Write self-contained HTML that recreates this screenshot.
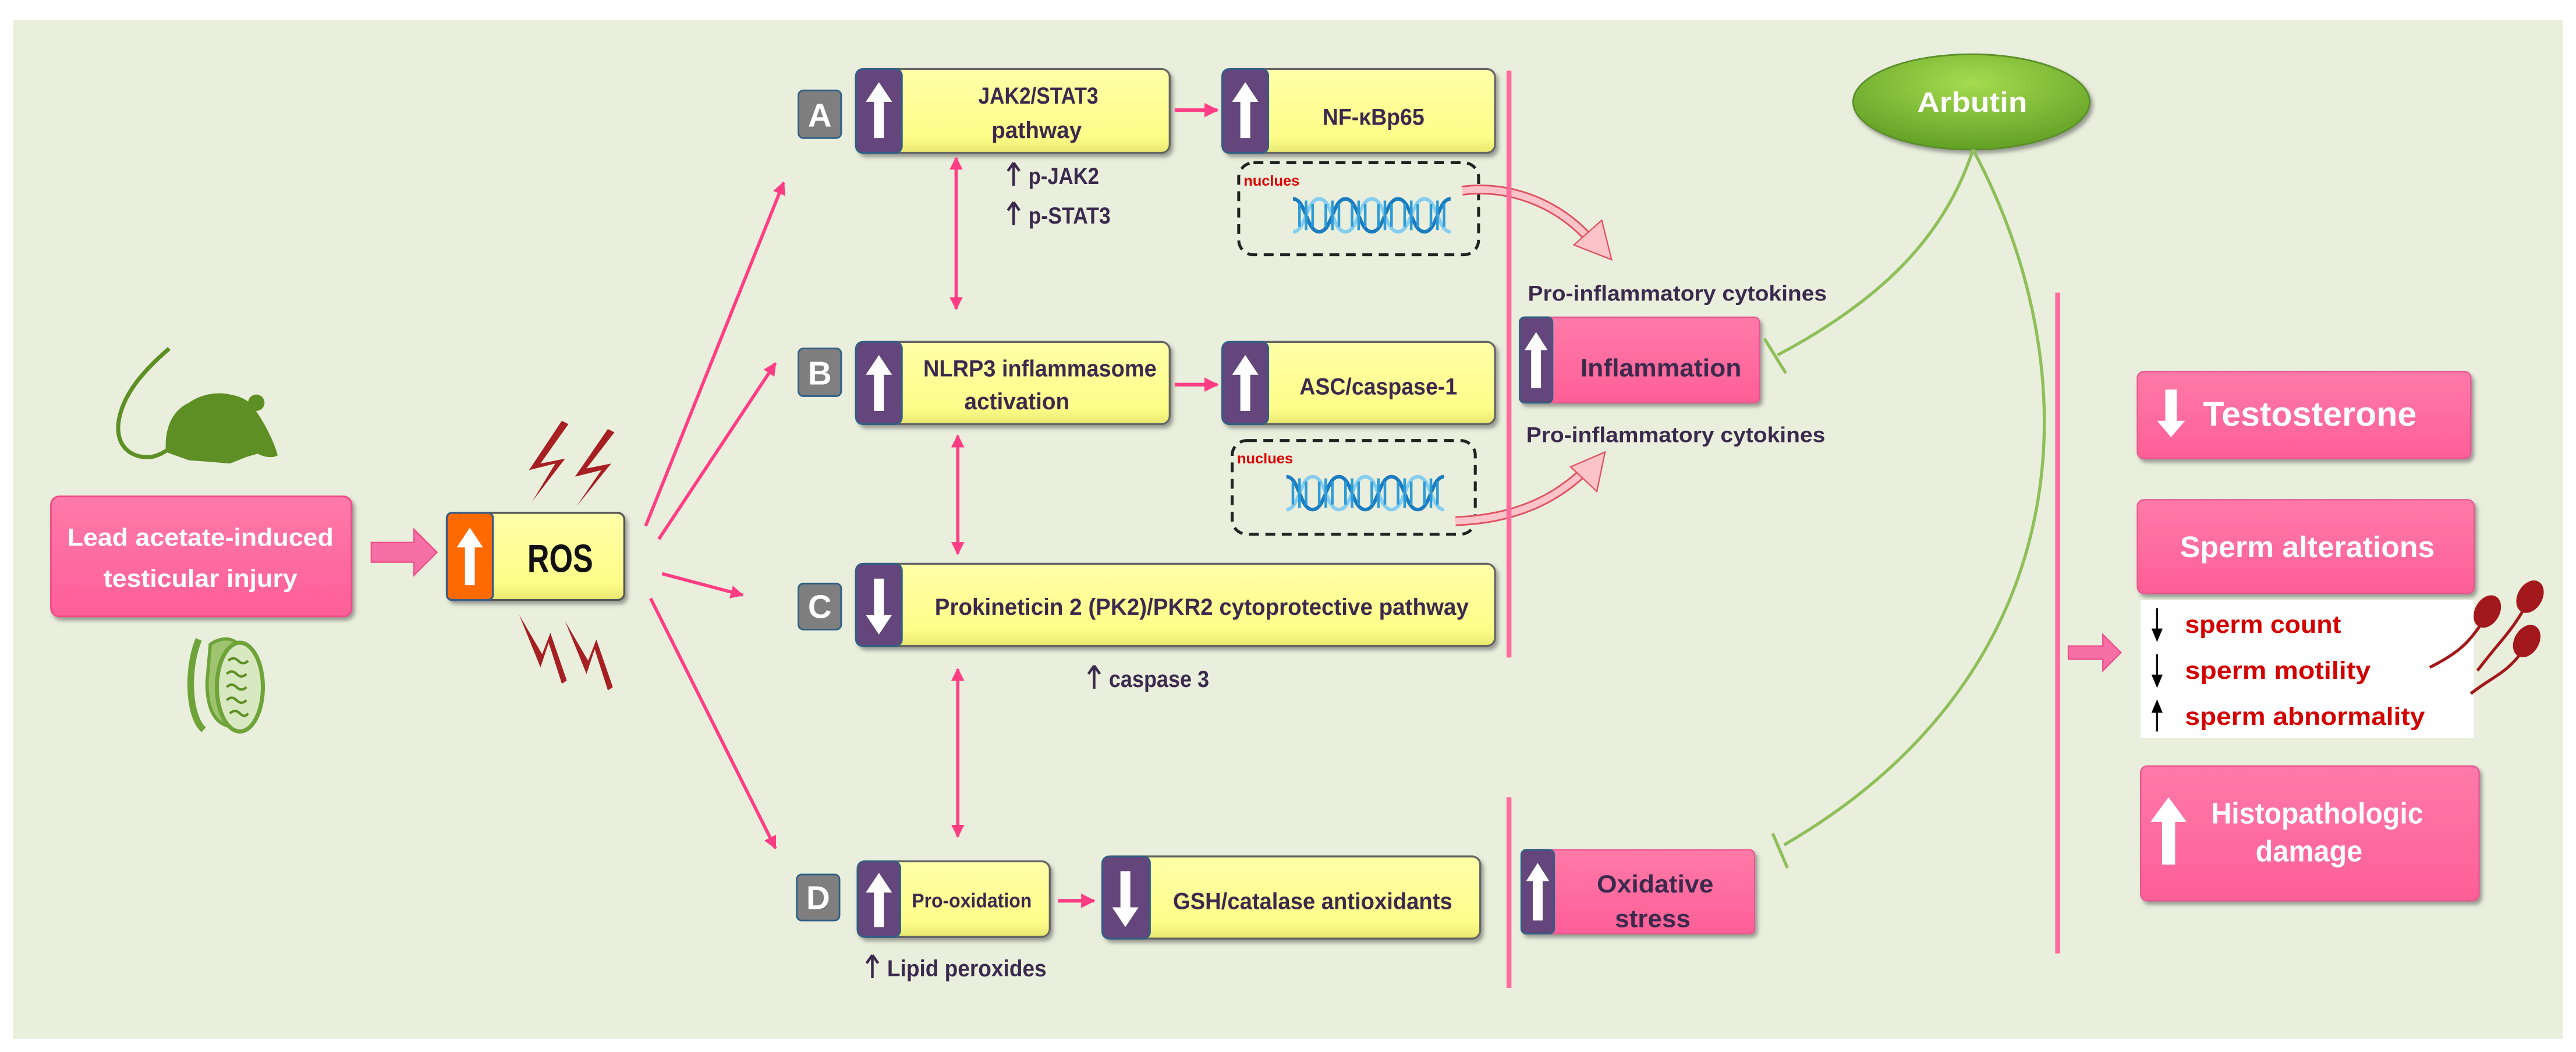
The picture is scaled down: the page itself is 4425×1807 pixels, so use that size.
<!DOCTYPE html>
<html><head><meta charset="utf-8">
<style>
html,body{margin:0;padding:0;background:#fff;}
svg{display:block;}
text{font-family:"Liberation Sans",sans-serif;font-weight:bold;}
</style></head>
<body>
<svg width="4425" height="1807" viewBox="0 0 1568 640" preserveAspectRatio="none" xmlns="http://www.w3.org/2000/svg">
<defs>
<marker id="pa" viewBox="0 0 10 10" refX="9" refY="5" markerWidth="4" markerHeight="4" orient="auto-start-reverse"><path d="M0,0 L10,5 L0,10 Z" fill="#ff3d85"/></marker>
<linearGradient id="gy" x1="0" y1="0" x2="0" y2="1"><stop offset="0" stop-color="#ffffa8"/><stop offset="0.8" stop-color="#fdfd8a"/><stop offset="1" stop-color="#e8e870"/></linearGradient>
<linearGradient id="gp" x1="0" y1="0" x2="0" y2="1"><stop offset="0" stop-color="#ff7aa8"/><stop offset="1" stop-color="#fd5f96"/></linearGradient>
<radialGradient id="gg" cx="0.5" cy="0.3" r="0.7"><stop offset="0" stop-color="#a5dc50"/><stop offset="1" stop-color="#62a025"/></radialGradient>
<filter id="sh" x="-10%" y="-10%" width="130%" height="140%"><feDropShadow dx="1.5" dy="2" stdDeviation="1.2" flood-color="#555" flood-opacity="0.55"/></filter>
<g id="dna">
<path d="M0,0 C8,0 8,20 16,20 C24,20 24,0 32,0 C40,0 40,20 48,20 C56,20 56,0 64,0 C72,0 72,20 80,20 C88,20 88,0 96,0" fill="none" stroke="#1b7cc0" stroke-width="2.2"/>
<path d="M0,20 C8,20 8,0 16,0 C24,0 24,20 32,20 C40,20 40,0 48,0 C56,0 56,20 64,20 C72,20 72,0 80,0 C88,0 88,20 96,20" fill="none" stroke="#86cdef" stroke-width="2.2"/>
<path d="M4,3V17M8,1V19M12,3V17M20,3V17M24,1V19M28,3V17M36,3V17M40,1V19M44,3V17M52,3V17M56,1V19M60,3V17M68,3V17M72,1V19M76,3V17M84,3V17M88,1V19M92,3V17" stroke="#2e9bd6" stroke-width="1.6"/>
</g>
<path id="ua" d="M0,0 L-3.5,5 M0,0 L3.5,5 M0,0 V14" fill="none" stroke="#3b2a4d" stroke-width="1.6"/>
</defs>
<rect x="0" y="0" width="1568" height="640" fill="#fff"/>
<rect x="8" y="12" width="1552" height="620" fill="#e9efdc"/>

<!-- mouse -->
<g fill="#5e8f25">
<path d="M103,212 C88,225 74,240 72,258 C71,272 80,279 92,278 C97,277 100,275 103,273" fill="none" stroke="#5e8f25" stroke-width="2.5"/>
<path d="M101,275 C100,262 104,250 115,245 C122,240 132,238 140,240 C146,241 150,243 153,246 C156,250 160,256 163,262 C166,268 168,273 169,277 C166,279 160,278 157,276 L150,278 L140,282 L128,281 L115,280 Z"/>
<circle cx="156" cy="245" r="5"/>
</g>
<!-- testis -->
<g>
<path d="M121,389 C114,405 114,435 124,444" fill="none" stroke="#6ea33a" stroke-width="4"/>
<path d="M128,392 C138,385 148,390 148,400 L140,442 C130,440 126,430 126,415 Z" fill="#9fc46f" stroke="#6ea33a" stroke-width="2"/>
<ellipse cx="146" cy="418" rx="14" ry="27" fill="#d8e8c0" stroke="#6ea33a" stroke-width="2.5"/>
<path d="M139,402 q3,-3 6,0 t6,0 M138,410 q3,-3 6,0 t6,0 M138,418 q3,-3 6,0 t6,0 M138,426 q3,-3 6,0 t6,0 M140,434 q3,-3 6,0 t5,0" fill="none" stroke="#5e8f25" stroke-width="1.5"/>
</g>

<!-- lead box -->
<rect x="31" y="302" width="183" height="73" rx="5" fill="url(#gp)" stroke="#f04c88" stroke-width="1" filter="url(#sh)"/>
<text x="122" y="332" font-size="15" fill="#fff" text-anchor="middle" textLength="162" lengthAdjust="spacingAndGlyphs">Lead acetate-induced</text>
<text x="122" y="357" font-size="15" fill="#fff" text-anchor="middle" textLength="118" lengthAdjust="spacingAndGlyphs">testicular injury</text>
<!-- block arrow -->
<path d="M226,330 L252,330 L252,322 L266,336 L252,350 L252,342 L226,342 Z" fill="#f670a6" stroke="#f04c88" stroke-width="0.8"/>

<!-- ROS -->
<rect x="272" y="312" width="108" height="53" rx="4" fill="url(#gy)" stroke="#555" stroke-width="1.2" filter="url(#sh)"/>
<rect x="272" y="312" width="28" height="53" rx="3" fill="#ff6a00" stroke="#3a5d85" stroke-width="1.2"/>
<path d="M286,321 L294,333 L289,333 L289,356 L283,356 L283,333 L278,333 Z" fill="#fff"/>
<text x="341" y="348" font-size="24" fill="#111" text-anchor="middle" textLength="40" lengthAdjust="spacingAndGlyphs">ROS</text>
<!-- lightning -->
<g fill="#a61f23">
<path d="M342,256 L322,286 L338,282 L324,305 L344,279 L329,282 L346,258 Z"/>
<path d="M370,261 L350,290 L366,286 L351,308 L372,282 L357,285 L374,263 Z"/>
<path d="M316,374 L329,406 L334,391 L342,416 L345,414 L335,385 L330,398 Z"/>
<path d="M344,378 L357,410 L362,395 L370,420 L373,418 L363,389 L358,402 Z"/>
</g>

<!-- ROS arrows -->
<g stroke="#ff3d85" stroke-width="2" fill="none" marker-end="url(#pa)">
<line x1="393" y1="320" x2="477" y2="111"/>
<line x1="401" y1="328" x2="472" y2="221"/>
<line x1="403" y1="349" x2="452" y2="362"/>
<line x1="396" y1="364" x2="472" y2="516"/>
</g>

<!-- letters -->
<g>
<rect x="486" y="55" width="26" height="29" rx="3" fill="#7f7f7f" stroke="#2f5f85" stroke-width="1"/>
<text x="499" y="77" font-size="20" fill="#fff" text-anchor="middle">A</text>
<rect x="486" y="212" width="26" height="29" rx="3" fill="#7f7f7f" stroke="#2f5f85" stroke-width="1"/>
<text x="499" y="234" font-size="20" fill="#fff" text-anchor="middle">B</text>
<rect x="486" y="355" width="26" height="28" rx="3" fill="#7f7f7f" stroke="#2f5f85" stroke-width="1"/>
<text x="499" y="376" font-size="20" fill="#fff" text-anchor="middle">C</text>
<rect x="485" y="532" width="26" height="28" rx="3" fill="#7f7f7f" stroke="#2f5f85" stroke-width="1"/>
<text x="498" y="553" font-size="20" fill="#fff" text-anchor="middle">D</text>
</g>

<g fill="#3b2a4d" font-size="14">
<!-- A -->
<rect x="521" y="42" width="191" height="51" rx="5" fill="url(#gy)" stroke="#666" stroke-width="1.2" filter="url(#sh)"/>
<rect x="521" y="42" width="28" height="51" rx="4" fill="#64467c" stroke="#2f5f85" stroke-width="1"/>
<path d="M535,50 L543,62 L538,62 L538,84 L532,84 L532,62 L527,62 Z" fill="#fff"/>
<text x="632" y="63" text-anchor="middle" textLength="73" lengthAdjust="spacingAndGlyphs">JAK2/STAT3</text>
<text x="631" y="84" text-anchor="middle" textLength="55" lengthAdjust="spacingAndGlyphs">pathway</text>
<!-- NF -->
<rect x="744" y="42" width="166" height="51" rx="5" fill="url(#gy)" stroke="#666" stroke-width="1.2" filter="url(#sh)"/>
<rect x="744" y="42" width="28" height="51" rx="4" fill="#64467c" stroke="#2f5f85" stroke-width="1"/>
<path d="M758,50 L766,62 L761,62 L761,84 L755,84 L755,62 L750,62 Z" fill="#fff"/>
<text x="805" y="76" textLength="62" lengthAdjust="spacingAndGlyphs">NF-κBp65</text>
<!-- B -->
<rect x="521" y="208" width="191" height="50" rx="5" fill="url(#gy)" stroke="#666" stroke-width="1.2" filter="url(#sh)"/>
<rect x="521" y="208" width="28" height="50" rx="4" fill="#64467c" stroke="#2f5f85" stroke-width="1"/>
<path d="M535,216 L543,228 L538,228 L538,250 L532,250 L532,228 L527,228 Z" fill="#fff"/>
<text x="633" y="229" text-anchor="middle" textLength="142" lengthAdjust="spacingAndGlyphs">NLRP3 inflammasome</text>
<text x="619" y="249" text-anchor="middle" textLength="64" lengthAdjust="spacingAndGlyphs">activation</text>
<!-- ASC -->
<rect x="744" y="208" width="166" height="50" rx="5" fill="url(#gy)" stroke="#666" stroke-width="1.2" filter="url(#sh)"/>
<rect x="744" y="208" width="28" height="50" rx="4" fill="#64467c" stroke="#2f5f85" stroke-width="1"/>
<path d="M758,216 L766,228 L761,228 L761,250 L755,250 L755,228 L750,228 Z" fill="#fff"/>
<text x="791" y="240" textLength="96" lengthAdjust="spacingAndGlyphs">ASC/caspase-1</text>
<!-- C -->
<rect x="521" y="343" width="389" height="50" rx="5" fill="url(#gy)" stroke="#666" stroke-width="1.2" filter="url(#sh)"/>
<rect x="521" y="343" width="28" height="50" rx="4" fill="#64467c" stroke="#2f5f85" stroke-width="1"/>
<path d="M532,352 L538,352 L538,374 L543,374 L535,386 L527,374 L532,374 Z" fill="#fff"/>
<text x="569" y="374" textLength="325" lengthAdjust="spacingAndGlyphs">Prokineticin 2 (PK2)/PKR2 cytoprotective pathway</text>
<!-- D -->
<rect x="522" y="524" width="117" height="46" rx="5" fill="url(#gy)" stroke="#666" stroke-width="1.2" filter="url(#sh)"/>
<rect x="522" y="524" width="26" height="46" rx="4" fill="#64467c" stroke="#2f5f85" stroke-width="1"/>
<path d="M535,531 L543,543 L538,543 L538,564 L532,564 L532,543 L527,543 Z" fill="#fff"/>
<text x="555" y="552" font-size="12" textLength="73" lengthAdjust="spacingAndGlyphs">Pro-oxidation</text>
<!-- GSH -->
<rect x="671" y="521" width="230" height="50" rx="5" fill="url(#gy)" stroke="#666" stroke-width="1.2" filter="url(#sh)"/>
<rect x="671" y="521" width="29" height="50" rx="4" fill="#64467c" stroke="#2f5f85" stroke-width="1"/>
<path d="M682,530 L688,530 L688,552 L693,552 L685,564 L677,552 L682,552 Z" fill="#fff"/>
<text x="714" y="553" textLength="170" lengthAdjust="spacingAndGlyphs">GSH/catalase antioxidants</text>
</g>

<!-- small labels -->
<g font-size="14" fill="#3b2a4d">
<use href="#ua" x="617" y="99"/><text x="626" y="112" textLength="43" lengthAdjust="spacingAndGlyphs">p-JAK2</text>
<use href="#ua" x="617" y="123"/><text x="626" y="136" textLength="50" lengthAdjust="spacingAndGlyphs">p-STAT3</text>
<use href="#ua" x="666" y="405"/><text x="675" y="418" textLength="61" lengthAdjust="spacingAndGlyphs">caspase 3</text>
<use href="#ua" x="531" y="581"/><text x="540" y="594" textLength="97" lengthAdjust="spacingAndGlyphs">Lipid peroxides</text>
</g>

<!-- horizontal arrows -->
<g stroke="#ff3d85" stroke-width="2.2" marker-end="url(#pa)">
<line x1="715" y1="67" x2="741" y2="67"/>
<line x1="715" y1="234" x2="741" y2="234"/>
<line x1="644" y1="548" x2="666" y2="548"/>
</g>
<!-- vertical double arrows -->
<g stroke="#ff3d85" stroke-width="2" marker-end="url(#pa)" marker-start="url(#pa)">
<line x1="582" y1="96" x2="582" y2="188"/>
<line x1="583" y1="265" x2="583" y2="337"/>
<line x1="583" y1="407" x2="583" y2="509"/>
</g>

<!-- dashed boxes -->
<g fill="none" stroke="#222" stroke-width="1.8" stroke-dasharray="6,4">
<rect x="754" y="99" width="146" height="56" rx="9"/>
<rect x="750" y="268" width="148" height="57" rx="9"/>
</g>
<text x="757" y="113" font-size="9" fill="#d00">nuclues</text>
<text x="753" y="282" font-size="9" fill="#d00">nuclues</text>
<use href="#dna" transform="translate(787,121)"/>
<use href="#dna" transform="translate(783,290)"/>

<!-- pink curved arrows -->
<g>
<path d="M890,116 C920,112 950,125 968,146" fill="none" stroke="#e05060" stroke-width="6"/>
<path d="M890,116 C920,112 950,125 968,146" fill="none" stroke="#fcc3c8" stroke-width="4"/>
<path d="M958,149 L981,158 L975,134 Z" fill="#fcc3c8" stroke="#e05060" stroke-width="0.8"/>
<path d="M886,317 C920,316 945,305 964,287" fill="none" stroke="#e05060" stroke-width="6"/>
<path d="M886,317 C920,316 945,305 964,287" fill="none" stroke="#fcc3c8" stroke-width="4"/>
<path d="M956,284 L977,275 L972,299 Z" fill="#fcc3c8" stroke="#e05060" stroke-width="0.8"/>
</g>

<!-- pink vertical bars -->
<g fill="#ff6b9d">
<rect x="917" y="43" width="3" height="357"/>
<rect x="917" y="485" width="3" height="116"/>
<rect x="1251" y="178" width="3" height="402"/>
</g>

<!-- cytokines labels -->
<g font-size="13" fill="#3b2a4d">
<text x="930" y="183" textLength="182" lengthAdjust="spacingAndGlyphs">Pro-inflammatory cytokines</text>
<text x="929" y="269" textLength="182" lengthAdjust="spacingAndGlyphs">Pro-inflammatory cytokines</text>
</g>

<!-- Inflammation -->
<rect x="925" y="193" width="146" height="52" rx="3" fill="url(#gp)" stroke="#e85590" stroke-width="0.8" filter="url(#sh)"/>
<rect x="925" y="193" width="20" height="52" rx="3" fill="#64467c" stroke="#2f5f85" stroke-width="1"/>
<path d="M935,202 L942,213 L938,213 L938,236 L932,236 L932,213 L928,213 Z" fill="#fff"/>
<text x="962" y="229" font-size="15" fill="#3b2a4d" textLength="98" lengthAdjust="spacingAndGlyphs">Inflammation</text>
<!-- Oxidative -->
<rect x="926" y="517" width="142" height="51" rx="3" fill="url(#gp)" stroke="#e85590" stroke-width="0.8" filter="url(#sh)"/>
<rect x="926" y="517" width="20" height="51" rx="3" fill="#64467c" stroke="#2f5f85" stroke-width="1"/>
<path d="M936,525 L943,536 L939,536 L939,560 L933,560 L933,536 L929,536 Z" fill="#fff"/>
<text x="972" y="543" font-size="15" fill="#3b2a4d" textLength="71" lengthAdjust="spacingAndGlyphs">Oxidative</text>
<text x="983" y="564" font-size="15" fill="#3b2a4d" textLength="46" lengthAdjust="spacingAndGlyphs">stress</text>

<!-- Arbutin -->
<ellipse cx="1200" cy="62" rx="72" ry="29" fill="url(#gg)" stroke="#5a8f2a" stroke-width="1" filter="url(#sh)"/>
<text x="1167" y="68" font-size="17" fill="#fff" textLength="67" lengthAdjust="spacingAndGlyphs">Arbutin</text>
<!-- inhibition lines -->
<g fill="none" stroke="#8fbf5a" stroke-width="1.9">
<path d="M1201,91 C1185,140 1150,180 1082,216"/>
<line x1="1074" y1="206" x2="1087" y2="227"/>
<path d="M1201,91 C1275,230 1265,410 1086,514"/>
<line x1="1079" y1="507" x2="1088" y2="528"/>
</g>

<!-- right arrow -->
<path d="M1259,393 L1280,393 L1280,386 L1291,397 L1280,408 L1280,401 L1259,401 Z" fill="#f670a6" stroke="#f04c88" stroke-width="0.8"/>

<!-- Testosterone -->
<rect x="1301" y="226" width="203" height="53" rx="4" fill="url(#gp)" stroke="#e85590" stroke-width="0.8" filter="url(#sh)"/>
<path d="M1318,237 L1325,237 L1325,256 L1330,256 L1321.5,266 L1313,256 L1318,256 Z" fill="#fff"/>
<text x="1341" y="259" font-size="21" fill="#fff" textLength="130" lengthAdjust="spacingAndGlyphs">Testosterone</text>
<!-- Sperm alterations -->
<rect x="1301" y="304" width="205" height="57" rx="4" fill="url(#gp)" stroke="#e85590" stroke-width="0.8" filter="url(#sh)"/>
<text x="1327" y="339" font-size="18" fill="#fff" textLength="155" lengthAdjust="spacingAndGlyphs">Sperm alterations</text>
<!-- white list -->
<rect x="1303" y="365" width="203" height="84" fill="#fff"/>
<g stroke="#000" stroke-width="1.2">
<line x1="1313" y1="370" x2="1313" y2="386"/><path d="M1310.5,383 L1313,389 L1315.5,383 Z" fill="#000"/>
<line x1="1313" y1="398" x2="1313" y2="414"/><path d="M1310.5,411 L1313,417 L1315.5,411 Z" fill="#000"/>
<line x1="1313" y1="430" x2="1313" y2="445"/><path d="M1310.5,433 L1313,427 L1315.5,433 Z" fill="#000"/>
</g>
<g font-size="15" fill="#d40000">
<text x="1330" y="385" textLength="95" lengthAdjust="spacingAndGlyphs">sperm count</text>
<text x="1330" y="413" textLength="113" lengthAdjust="spacingAndGlyphs">sperm motility</text>
<text x="1330" y="441" textLength="146" lengthAdjust="spacingAndGlyphs">sperm abnormality</text>
</g>
<!-- sperm cells -->
<g fill="#a3181c" stroke="#a3181c">
<ellipse cx="1514" cy="372" rx="7" ry="10" transform="rotate(30 1514 372)"/>
<path d="M1510,380 C1502,392 1495,398 1479,406" fill="none" stroke-width="1.8"/>
<ellipse cx="1540" cy="363" rx="7" ry="10" transform="rotate(30 1540 363)"/>
<path d="M1536,371 C1528,385 1520,392 1508,408" fill="none" stroke-width="1.8"/>
<ellipse cx="1538" cy="390" rx="7" ry="10" transform="rotate(30 1538 390)"/>
<path d="M1534,398 C1525,410 1515,413 1504,422" fill="none" stroke-width="1.8"/>
</g>
<!-- Histopathologic -->
<rect x="1303" y="466" width="206" height="82" rx="4" fill="url(#gp)" stroke="#e85590" stroke-width="0.8" filter="url(#sh)"/>
<path d="M1320,485 L1331,500 L1324,500 L1324,526 L1316,526 L1316,500 L1309,500 Z" fill="#fff"/>
<text x="1346" y="501" font-size="18" fill="#fff" textLength="129" lengthAdjust="spacingAndGlyphs">Histopathologic</text>
<text x="1373" y="524" font-size="18" fill="#fff" textLength="65" lengthAdjust="spacingAndGlyphs">damage</text>
</svg>
</body></html>
